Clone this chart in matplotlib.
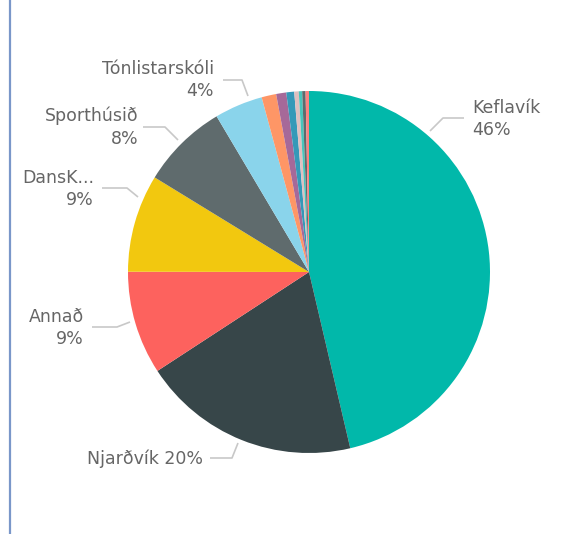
import matplotlib
matplotlib.use("Agg")
import matplotlib.pyplot as plt
from matplotlib.lines import Line2D

# slices, clockwise from 12 o'clock
labels = ["Keflavík", "Njarðvík", "Annað", "DansK...", "Sporthúsið", "Tónlistarskóli",
          "", "", "", "", "", "", ""]
shares = [46.2, 19.4, 9.2, 8.7, 7.7, 4.3, 1.3, 0.9, 0.7, 0.4, 0.3, 0.3, 0.3]
colors = ["#01B8AA", "#374649", "#FD625E", "#F2C80F", "#5F6B6D", "#8AD4EB",
          "#FE9666", "#A66999", "#3599B8", "#DFBFBF", "#4AC5BB", "#5F6B6D", "#FB8281"]
pct_text = ["46%", "20%", "9%", "9%", "8%", "4%"]

W, H = 575, 534
fig = plt.figure(figsize=(W / 100, H / 100), dpi=100)
ax = fig.add_axes([0, 0, 1, 1])
ax.set_xlim(0, W)
ax.set_ylim(0, H)
ax.set_aspect("equal")
ax.axis("off")

cx, cy, r = 309, H - 272, 181
ax.pie(shares, colors=colors, startangle=90, counterclock=False,
       center=(cx, cy), radius=r, wedgeprops=dict(linewidth=0))
ax.set_xlim(0, W)
ax.set_ylim(0, H)

txt_color = "#666666"
line_color = "#c8c8c8"
font = dict(family=["DejaVu Sans"], fontsize=12.5, color=txt_color)


def py(y):
    return H - y


# label layout in pixel space: (text, x, y, ha, leader polyline)
layout = [
    (f"{labels[0]}\n{pct_text[0]}", 472, 119, "left",
     [(430, 131), (443, 118), (464, 118)]),
    (f"{labels[1]} {pct_text[1]}", 203, 459, "right",
     [(210, 458), (232, 458), (238, 443)]),
    (f"{labels[2]}\n{pct_text[2]}", 84, 328, "right",
     [(92, 327), (117, 327), (130, 322)]),
    (f"{labels[3]}\n{pct_text[3]}", 94, 189, "right",
     [(102, 188), (127, 188), (138, 197)]),
    (f"{labels[4]}\n{pct_text[4]}", 138, 127, "right",
     [(143, 127), (165, 127), (178, 140)]),
    (f"{labels[5]}\n{pct_text[5]}", 214, 80, "right",
     [(223, 80), (242, 80), (248, 96)]),
]

for text, x, y, ha, pts in layout:
    ax.text(x, py(y), text, ha=ha, va="center", linespacing=1.35, **font)
    xs = [p[0] for p in pts]
    ys = [py(p[1]) for p in pts]
    ax.plot(xs, ys, color=line_color, linewidth=1.2, solid_capstyle="butt")

# left border line
fig.add_artist(Line2D([9.5 / W, 9.5 / W], [0, 1], transform=fig.transFigure,
                      color="#7a97c9", linewidth=1.6))

fig.savefig("out.png", dpi=100, facecolor="white")
